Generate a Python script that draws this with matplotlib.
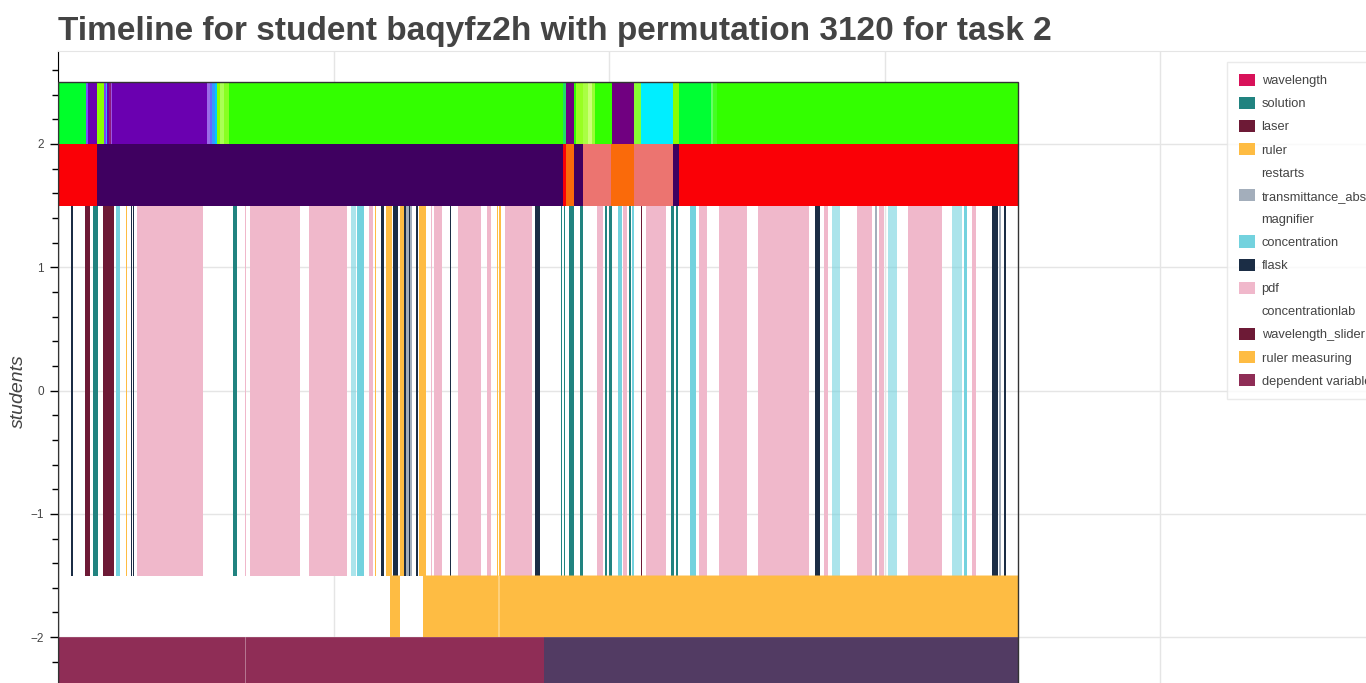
import matplotlib
matplotlib.use("Agg")
import matplotlib.pyplot as plt
from matplotlib.patches import Patch, Rectangle
from matplotlib.ticker import MultipleLocator

plt.rcParams['font.family'] = ['Liberation Sans', 'DejaVu Sans']

# timeline runs 0..960 (time units), grid every 275.5
t_end = 960

# legend entries (tool -> colour)
tools = ['wavelength', 'solution', 'laser', 'ruler', 'restarts',
         'transmittance_abs', 'magnifier', 'concentration', 'flask', 'pdf',
         'concentrationlab', 'wavelength_slider', 'ruler measuring',
         'dependent variable']
tool_colors = ['#D81159', '#218380', '#6D1A36', '#FEBC43', '#FFFFFF',
               '#A3AEBB', '#FFFFFF', '#73D2DE', '#1B2D45', '#F0B8CB',
               '#FFFFFF', '#6D1A36', '#FEBC43', '#8F2D56']
color_of = dict(zip(tools, tool_colors))

# top row: wavelength setting
wl_start = [0, 28, 30, 39, 46, 48, 49, 51, 53, 54, 149, 152, 154, 157, 159,
            162, 166, 171, 505, 508, 516, 518, 525, 530, 534, 537, 554, 576,
            583, 615, 621, 653, 655, 659]
wl_end = wl_start[1:] + [t_end]
wl_colors = ['#00FF2A', '#7B4DFF', '#6A00B0', '#8CFF00', '#7A3CFF', '#33AAFF',
             '#6A00B0', '#8B1A7A', '#9A55E0', '#6A00B0', '#9B6BE8', '#6666FF',
             '#3399FF', '#00C8FF', '#8CFF00', '#AAFF55', '#88FF22', '#33FF00',
             '#22DD66', '#700080', '#33FF00', '#99FF22', '#AAFF44', '#CCFF77',
             '#99FF33', '#33FF00', '#700080', '#88FF33', '#00EEFF', '#88FF00',
             '#00FF33', '#66FF66', '#44FF22', '#33FF00']

# second row: solution setting
sol_start = [0, 39, 505, 508, 516, 525, 553, 576, 615, 621]
sol_end = sol_start[1:] + [t_end]
sol_colors = ['#FA0006', '#3F0060', '#FA0006', '#FA6A0A', '#3F0060',
              '#EC7470', '#FA6A0A', '#EC7470', '#3F0060', '#FA0006']

# middle row: tool use events
ev_start = [13, 17.5, 22, 27.3, 34.7, 44.7, 58, 63.5, 68, 73, 75.3, 79, 161,
            174.7, 187, 191.7, 251, 299, 311, 317, 323, 328, 335.3, 342,
            346.3, 348, 350.5, 351.5, 358, 361.3, 373, 375.7, 392, 400, 429.3,
            439.3, 441, 446.7, 477.3, 484, 502.7, 505.7, 511, 522, 538.7, 547,
            551.3, 559.7, 565.3, 571.3, 573.7, 583, 588, 613, 617.7, 632, 641,
            661, 700.3, 757, 765.7, 798.7, 817, 821.3, 849.7, 905.7, 914,
            933.7, 941.3, 946.3]
ev_end = [14.5, 17.8, 22.4, 32.3, 39.7, 56.3, 62, 63.8, 69.3, 74.3, 76.3,
          144.7, 161.4, 178.7, 187.5, 242, 289.3, 305.7, 314.7, 317.5, 326,
          333.7, 340.3, 346.3, 347.7, 350.5, 351.5, 353.7, 359.7, 368, 373.5,
          383.7, 393.3, 423, 433, 440.3, 442.7, 474, 482.3, 484.4, 504.3,
          506.7, 516, 525.3, 545.3, 549.3, 553.7, 563.7, 568.7, 572.7, 576.3,
          583.7, 607.7, 616, 620.3, 638, 648.7, 688.7, 751.3, 762, 770.3,
          814.3, 818.7, 826, 883.7, 909.3, 917.7, 940.3, 943, 947.7]
ev_tool = ['flask', 'pdf', 'pdf', 'laser', 'solution', 'wavelength_slider',
           'concentration', 'pdf', 'ruler', 'flask', 'flask', 'pdf', 'pdf',
           'solution', 'pdf', 'pdf', 'pdf', 'concentration', 'pdf', 'ruler',
           'flask', 'ruler', 'flask', 'ruler', 'flask', 'transmittance_abs',
           'flask', 'transmittance_abs', 'flask', 'ruler', 'pdf', 'pdf',
           'flask', 'pdf', 'pdf', 'ruler', 'ruler', 'pdf', 'flask', 'pdf',
           'solution', 'solution', 'solution', 'solution', 'pdf', 'solution',
           'solution', 'concentration', 'pdf', 'solution', 'concentration',
           'laser', 'pdf', 'solution', 'solution', 'concentration', 'pdf',
           'pdf', 'pdf', 'flask', 'pdf', 'pdf', 'transmittance_abs', 'pdf',
           'pdf', 'concentration', 'pdf', 'flask', 'transmittance_abs', 'flask']

# quick bursts of concentration changes (drawn lighter)
burst_start = [292.7, 773.7, 829.7, 893.7]
burst_end = [298, 782, 838.7, 903.7]

# ruler measuring row
rm_start = [332, 365, 441.3]
rm_end = [342, 440.7, t_end]

# dependent variable row
dv_start = [0, 187.5, 486]
dv_end = [187.3, 486, t_end]
dv_colors = ['#8F2D56', '#8F2D56', '#523B63']


def spans(start, end):
    return [b - a for a, b in zip(start, end)]


fig = plt.figure(figsize=(13.66, 6.83), dpi=100)
ax = fig.add_axes([58 / 1366, -0.0773, 1342 / 1366, 1.0019])
ax.set_xlim(0, 1342)
ax.set_ylim(-2.8, 2.75)
ax.set_axisbelow(True)

ax.barh(2.25, spans(wl_start, wl_end), left=wl_start, height=0.5,
        color=wl_colors, linewidth=0)
ax.barh(1.75, spans(sol_start, sol_end), left=sol_start, height=0.5,
        color=sol_colors, linewidth=0)
ax.barh(0, spans(burst_start, burst_end), left=burst_start, height=3,
        color=color_of['concentration'], alpha=0.6, linewidth=0)
ax.barh(0, spans(ev_start, ev_end), left=ev_start, height=3,
        color=[color_of[t] for t in ev_tool], linewidth=0)
rm_bars = ax.barh(-1.75, spans(rm_start, rm_end), left=rm_start, height=0.5,
                  color=color_of['ruler measuring'], linewidth=0)
dv_bars = ax.barh(-2.25, spans(dv_start, dv_end), left=dv_start, height=0.5,
                  color=dv_colors, linewidth=0)
# no pixel snapping so the seams between segments stay faint
for bar in list(rm_bars) + list(dv_bars):
    bar.set_snap(False)
ax.add_patch(Rectangle((0, -2.5), t_end, 5, fill=False, edgecolor='#333333',
                       linewidth=1, zorder=5))

ax.xaxis.set_major_locator(MultipleLocator(275.5))
ax.yaxis.set_major_locator(MultipleLocator(1))
ax.yaxis.set_minor_locator(MultipleLocator(0.2))
ax.grid(True, which='major', color='#e5e5e5', linewidth=1)
ax.tick_params(axis='x', bottom=False, labelbottom=False)
ax.tick_params(axis='y', which='major', direction='out', length=6, width=1,
               labelsize=8.5, labelcolor='#444444', pad=4)
ax.tick_params(axis='y', which='minor', direction='out', length=4, width=1)
for side in ['right', 'bottom']:
    ax.spines[side].set_visible(False)
ax.spines['top'].set_color('#e5e5e5')
ax.spines['left'].set_color('black')

fig.text(58 / 1366, 1 - 40 / 683,
         'Timeline for student baqyfz2h with permutation 3120 for task 2',
         fontsize=24, fontweight='bold', color='#444444', va='baseline')
fig.text(18.5 / 1366, 1 - 391 / 683, 'students', rotation=90, style='italic',
         fontsize=14, color='#444444', ha='center', va='center')

handles = [Patch(facecolor=c, edgecolor='none', label=t)
           for t, c in zip(tools, tool_colors)]
leg = fig.legend(handles=handles, loc='upper left',
                 bbox_to_anchor=(1227 / 1366, 1 - 62 / 683), frameon=True,
                 fancybox=False, edgecolor='#e5e5e5', fontsize=9.3,
                 handlelength=1.24, handleheight=1.09, handletextpad=0.54,
                 labelspacing=0.74, borderpad=0.9, borderaxespad=0)
leg.get_frame().set_linewidth(1)
for txt in leg.get_texts():
    txt.set_color('#444444')

fig.savefig('out.png', dpi=100)
